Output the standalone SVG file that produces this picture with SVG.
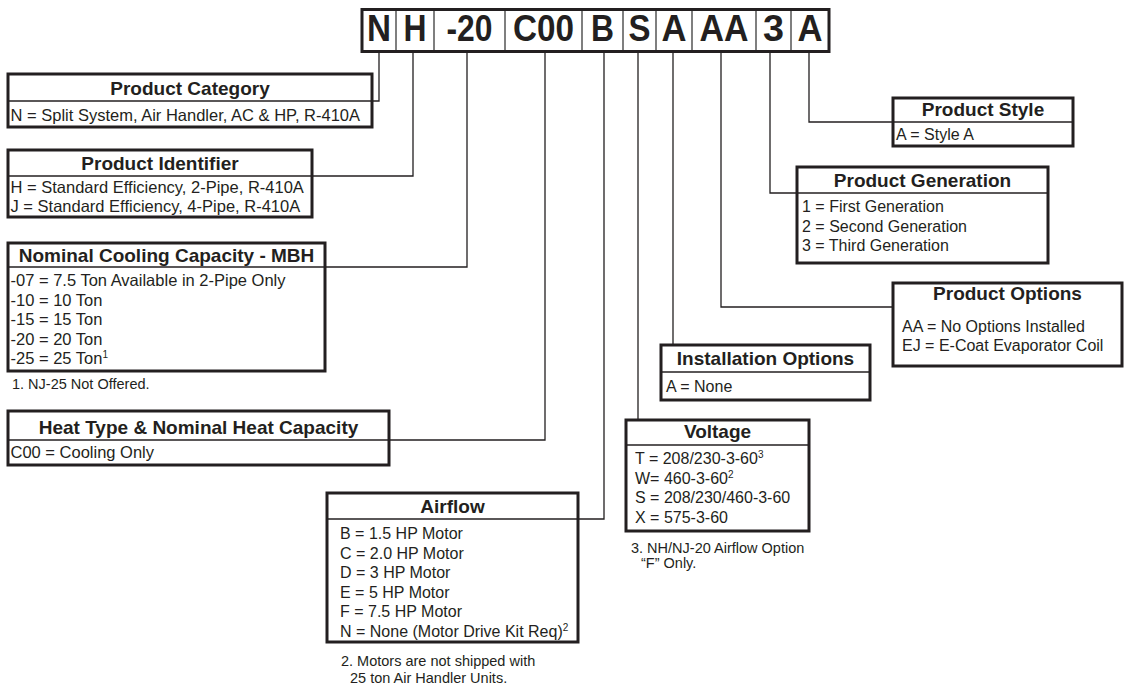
<svg xmlns="http://www.w3.org/2000/svg" width="1141" height="689" viewBox="0 0 1141 689">
<style>
.box{fill:#fff;stroke:#231f20;stroke-width:3}
.dv{stroke:#231f20;stroke-width:1.3}
.cd{stroke:#555;stroke-width:1.5}
.con{fill:none;stroke:#231f20;stroke-width:1.3}
text{font-family:"Liberation Sans",Arial,Helvetica,sans-serif;fill:#231f20}
.t{font-size:19px;font-weight:bold;text-anchor:middle}
.b{font-size:16px}
.bl{font-size:16.5px}
.f{font-size:14.5px}
.h{font-size:36px;font-weight:bold;text-anchor:middle}
.sp{font-size:10px}
</style>
<rect width="1141" height="689" fill="#fff"/>
<g id="connectors">
<polyline class="con" points="379,52 379,101 372,101"/>
<polyline class="con" points="413,52 413,176 312,176"/>
<polyline class="con" points="467,52 467,267 325,267"/>
<polyline class="con" points="545,52 545,440 389,440"/>
<polyline class="con" points="604,52 604,519 578,519"/>
<polyline class="con" points="638,52 638,420"/>
<polyline class="con" points="673,52 673,345"/>
<polyline class="con" points="721,52 721,307 893,307"/>
<polyline class="con" points="770,52 770,193 797,193"/>
<polyline class="con" points="809,52 809,122 893,122"/>
</g>
<g id="model-code">
<rect class="box" x="362" y="9.5" width="467" height="42"/>
<line class="cd" x1="396" y1="11" x2="396" y2="50"/>
<line class="cd" x1="434" y1="11" x2="434" y2="50"/>
<line class="cd" x1="505" y1="11" x2="505" y2="50"/>
<line class="cd" x1="582" y1="11" x2="582" y2="50"/>
<line class="cd" x1="623" y1="11" x2="623" y2="50"/>
<line class="cd" x1="656" y1="11" x2="656" y2="50"/>
<line class="cd" x1="692" y1="11" x2="692" y2="50"/>
<line class="cd" x1="756" y1="11" x2="756" y2="50"/>
<line class="cd" x1="791" y1="11" x2="791" y2="50"/>
<text class="h" x="379" y="41" textLength="24" lengthAdjust="spacingAndGlyphs">N</text>
<text class="h" x="415" y="41" textLength="23" lengthAdjust="spacingAndGlyphs">H</text>
<text class="h" x="469.5" y="41" textLength="46" lengthAdjust="spacingAndGlyphs">-20</text>
<text class="h" x="543.5" y="41" textLength="61" lengthAdjust="spacingAndGlyphs">C00</text>
<text class="h" x="602.5" y="41" textLength="23" lengthAdjust="spacingAndGlyphs">B</text>
<text class="h" x="639.5" y="41" textLength="22" lengthAdjust="spacingAndGlyphs">S</text>
<text class="h" x="674" y="41" textLength="25" lengthAdjust="spacingAndGlyphs">A</text>
<text class="h" x="724" y="41" textLength="49" lengthAdjust="spacingAndGlyphs">AA</text>
<text class="h" x="773.5" y="41" textLength="21" lengthAdjust="spacingAndGlyphs">3</text>
<text class="h" x="810" y="41" textLength="25" lengthAdjust="spacingAndGlyphs">A</text>
</g>
<g id="product-category">
<rect class="box" x="8" y="74" width="364" height="53"/>
<line class="dv" x1="8" y1="101" x2="372" y2="101"/>
<text class="t" x="190" y="95">Product Category</text>
<text class="bl" x="10.5" y="121">N = Split System, Air Handler, AC &amp; HP, R-410A</text>
</g>
<g id="product-identifier">
<rect class="box" x="8" y="150" width="304" height="67"/>
<line class="dv" x1="8" y1="176" x2="312" y2="176"/>
<text class="t" x="160" y="170">Product Identifier</text>
<text class="bl" x="10.5" y="193">H = Standard Efficiency, 2-Pipe, R-410A</text>
<text class="bl" x="10.5" y="212">J = Standard Efficiency, 4-Pipe, R-410A</text>
</g>
<g id="nominal-cooling">
<rect class="box" x="8" y="243" width="317" height="128"/>
<line class="dv" x1="8" y1="267" x2="325" y2="267"/>
<text class="t" x="166.5" y="262">Nominal Cooling Capacity - MBH</text>
<text class="bl" x="10.5" y="286">-07 = 7.5 Ton Available in 2-Pipe Only</text>
<text class="bl" x="10.5" y="305.5">-10 = 10 Ton</text>
<text class="bl" x="10.5" y="325">-15 = 15 Ton</text>
<text class="bl" x="10.5" y="344.5">-20 = 20 Ton</text>
<text class="bl" x="10.5" y="364">-25 = 25 Ton<tspan class="sp" dy="-6">1</tspan></text>
<text class="f" x="12" y="389">1. NJ-25 Not Offered.</text>
</g>
<g id="heat-type">
<rect class="box" x="8" y="411" width="381" height="54"/>
<line class="dv" x1="8" y1="440" x2="389" y2="440"/>
<text class="t" x="198.5" y="434">Heat Type &amp; Nominal Heat Capacity</text>
<text class="bl" x="10.5" y="458">C00 = Cooling Only</text>
</g>
<g id="airflow">
<rect class="box" x="327" y="493" width="251" height="149"/>
<line class="dv" x1="327" y1="519" x2="578" y2="519"/>
<text class="t" x="452.5" y="513">Airflow</text>
<text class="b" x="340" y="539">B = 1.5 HP Motor</text>
<text class="b" x="340" y="558.5">C = 2.0 HP Motor</text>
<text class="b" x="340" y="578">D = 3 HP Motor</text>
<text class="b" x="340" y="597.5">E = 5 HP Motor</text>
<text class="b" x="340" y="617">F = 7.5 HP Motor</text>
<text class="b" x="340" y="636.5">N = None (Motor Drive Kit Req)<tspan class="sp" dy="-6">2</tspan></text>
<text class="f" x="341" y="666">2. Motors are not shipped with</text>
<text class="f" x="350" y="683">25 ton Air Handler Units.</text>
</g>
<g id="voltage">
<rect class="box" x="626" y="420" width="183" height="111"/>
<line class="dv" x1="626" y1="445" x2="809" y2="445"/>
<text class="t" x="717.5" y="438">Voltage</text>
<text class="b" x="635" y="464">T = 208/230-3-60<tspan class="sp" dy="-6">3</tspan></text>
<text class="b" x="635" y="483.5">W= 460-3-60<tspan class="sp" dy="-6">2</tspan></text>
<text class="b" x="635" y="503">S = 208/230/460-3-60</text>
<text class="b" x="635" y="522.5">X = 575-3-60</text>
<text class="f" x="631" y="553">3. NH/NJ-20 Airflow Option</text>
<text class="f" x="641" y="568">“F” Only.</text>
</g>
<g id="installation-options">
<rect class="box" x="661" y="345" width="209" height="55"/>
<line class="dv" x1="661" y1="372" x2="870" y2="372"/>
<text class="t" x="765.5" y="365">Installation Options</text>
<text class="b" x="666" y="392">A = None</text>
</g>
<g id="product-options">
<rect class="box" x="893" y="283" width="229" height="83"/>
<text class="t" x="1007.5" y="300">Product Options</text>
<text class="b" x="902" y="332">AA = No Options Installed</text>
<text class="b" x="902" y="351">EJ = E-Coat Evaporator Coil</text>
</g>
<g id="product-generation">
<rect class="box" x="797" y="167" width="251" height="96"/>
<line class="dv" x1="797" y1="193" x2="1048" y2="193"/>
<text class="t" x="922.5" y="187">Product Generation</text>
<text class="b" x="802" y="212">1 = First Generation</text>
<text class="b" x="802" y="231.5">2 = Second Generation</text>
<text class="b" x="802" y="251">3 = Third Generation</text>
</g>
<g id="product-style">
<rect class="box" x="893" y="98" width="180" height="48"/>
<line class="dv" x1="893" y1="122" x2="1073" y2="122"/>
<text class="t" x="983" y="116">Product Style</text>
<text class="b" x="896" y="140">A = Style A</text>
</g>
</svg>
